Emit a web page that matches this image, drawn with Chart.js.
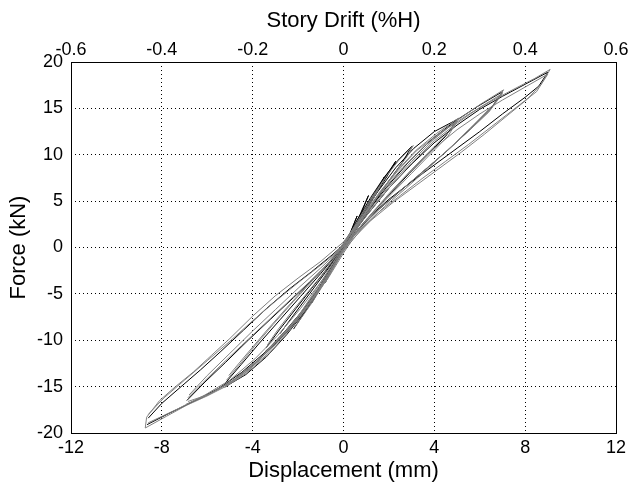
<!DOCTYPE html>
<html>
<head>
<meta charset="utf-8">
<title>Hysteresis - Force vs Displacement</title>
<script src="https://cdn.jsdelivr.net/npm/chart.js@4.4.0/dist/chart.umd.min.js"></script>
<style>
    html, body { margin: 0; padding: 0; background: #fff; }
    #wrap { width: 632px; height: 483px; }
</style>
</head>
<body>
<div id="wrap"><canvas id="chart" width="632" height="483"></canvas></div>
<script>
// --- Tick labels ---
const xTicks = [-12, -8, -4, 0, 4, 8, 12];
const yTicks = [-20, -15, -10, -5, 0, 5, 10, 15, 20];
const driftTicks = ['-0.6', '-0.4', '-0.2', '0', '0.2', '0.4', '0.6'];

// --- Loops [displacement mm, force kN] ---
// each loop: neg. tip -> origin -> pos. tip -> origin -> neg. tip
const loop1Grey = [
    [-8.67, -18.3], [-8.1, -16.5], [-7.4, -15.0], [-6.6, -13.4], [-5.8, -11.6], [-5.0, -9.8],
    [-4.0, -7.4], [-3.0, -5.2], [-2.0, -3.3], [-1.0, -1.5], [0, 0.6],
    [0.6, 2.6], [1.6, 5.8], [2.6, 8.6], [3.6, 11.0], [4.6, 12.9], [5.6, 14.5], [6.6, 15.9],
    [7.6, 17.2], [8.4, 18.2], [9.1, 19.2],
    [8.7, 17.6], [8.1, 16.0], [7.2, 14.2], [6.2, 12.2], [5.2, 10.3], [4.2, 8.5], [3.2, 6.7],
    [2.2, 4.9], [1.2, 2.9], [0.4, 0.9], [0, -0.6],
    [-0.7, -3.4], [-1.6, -6.3], [-2.5, -8.9], [-3.4, -11.3], [-4.2, -13.3], [-5.2, -15.0],
    [-6.0, -16.0], [-6.9, -17.0], [-7.8, -18.2], [-8.73, -19.46], [-8.67, -18.3]
];
const loop1Grey2 = [
    [-8.6, -18.0], [-7.9, -16.2], [-7.0, -14.3], [-6.0, -12.2], [-5.0, -10.1], [-4.0, -7.9],
    [-3.0, -5.8], [-2.0, -3.8], [-1.0, -1.9], [0, 0.1],
    [1.0, 3.0], [2.0, 5.8], [3.0, 8.4], [4.0, 10.7], [5.0, 12.7], [6.0, 14.4], [7.0, 15.9],
    [8.0, 17.3], [9.0, 18.7],
    [8.5, 16.8], [7.5, 14.9], [6.5, 13.0], [5.5, 11.1], [4.5, 9.3], [3.5, 7.5], [2.5, 5.6],
    [1.5, 3.7], [0.6, 1.6], [0, 0],
    [-0.9, -3.4], [-1.9, -6.6], [-2.9, -9.5], [-3.9, -12.0], [-5.0, -14.3], [-6.1, -15.9],
    [-7.3, -17.4], [-8.6, -18.9]
];
const loop1Black = [
    [-8.6, -18.4], [-8.0, -16.8], [-7.2, -15.1], [-6.3, -13.2], [-5.4, -11.2], [-4.4, -8.9],
    [-3.4, -6.6], [-2.4, -4.5], [-1.4, -2.6], [-0.5, -0.8], [0, 0.3],
    [1.0, 3.4], [2.0, 6.4], [3.0, 9.0], [4.0, 11.3], [5.0, 13.2], [6.0, 14.9], [7.0, 16.3],
    [8.0, 17.6], [9.0, 18.9],
    [8.6, 17.4], [8.0, 16.2], [7.0, 14.4], [6.0, 12.5], [5.0, 10.7], [4.0, 8.9], [3.0, 7.1],
    [2.0, 5.2], [1.0, 3.0], [0.3, 0.9], [0, -0.2],
    [-0.8, -3.6], [-1.7, -6.5], [-2.6, -9.1], [-3.5, -11.4], [-4.5, -13.5], [-5.5, -15.2],
    [-6.6, -16.6], [-7.7, -17.9], [-8.65, -19.1]
];
const loop2Grey = [
    [-6.85, -16.2], [-6.2, -14.6], [-5.4, -12.7], [-4.5, -10.6], [-3.5, -8.3], [-2.5, -6.0],
    [-1.5, -3.7], [-0.6, -1.5], [0, 0.5],
    [1.0, 3.6], [2.0, 6.6], [3.0, 9.3], [4.0, 11.7], [5.0, 13.7], [6.0, 15.4], [7.05, 17.0],
    [6.6, 15.4], [5.8, 13.4], [4.8, 11.0], [3.8, 8.7], [2.8, 6.5], [1.8, 4.4], [0.8, 2.0], [0, -0.4],
    [-0.8, -3.6], [-1.8, -6.9], [-2.8, -9.8], [-3.8, -12.2], [-4.8, -14.2], [-5.9, -15.8], [-6.93, -16.9]
];
const loop2Grey2 = [
    [-6.8, -15.9], [-6.0, -13.8], [-5.0, -11.4], [-4.0, -9.0], [-3.0, -6.7], [-2.0, -4.4],
    [-1.0, -2.2], [0, 0.1],
    [1.0, 3.4], [2.0, 6.4], [3.0, 9.1], [4.0, 11.5], [5.0, 13.4], [6.0, 15.1], [7.0, 16.6],
    [6.4, 14.6], [5.4, 12.3], [4.4, 10.1], [3.4, 8.0], [2.4, 5.9], [1.4, 3.8], [0.5, 1.4], [0, -0.2],
    [-1.0, -4.0], [-2.0, -7.4], [-3.0, -10.3], [-4.0, -12.7], [-5.0, -14.6], [-6.0, -15.9], [-6.85, -16.6]
];
const loop2Black = [
    [-6.9, -16.5], [-6.1, -14.5], [-5.2, -12.4], [-4.2, -10.0], [-3.2, -7.7], [-2.2, -5.4],
    [-1.2, -3.1], [-0.4, -1.0], [0, 0.2],
    [0.9, 3.4], [1.9, 6.5], [2.9, 9.3], [3.9, 11.7], [4.9, 13.6], [5.9, 15.2], [7.0, 16.8],
    [6.5, 15.0], [5.6, 12.8], [4.6, 10.5], [3.6, 8.4], [2.6, 6.3], [1.6, 4.2], [0.6, 1.8], [0, -0.3],
    [-0.9, -3.9], [-1.9, -7.2], [-2.9, -10.1], [-3.9, -12.5], [-4.9, -14.4], [-5.9, -15.8], [-6.9, -16.9]
];
const loop3Grey = [
    [-5.15, -14.3], [-4.6, -12.7], [-3.9, -10.6], [-3.1, -8.3], [-2.2, -5.8], [-1.3, -3.4],
    [-0.5, -1.2], [0, 0.4],
    [0.8, 3.2], [1.6, 6.0], [2.4, 8.4], [3.2, 10.5], [4.1, 12.3], [5.06, 13.95],
    [4.7, 12.6], [4.0, 10.9], [3.2, 8.9], [2.4, 6.8], [1.6, 4.6], [0.8, 2.4], [0, -0.3],
    [-0.7, -3.2], [-1.5, -6.2], [-2.4, -9.0], [-3.3, -11.5], [-4.3, -13.6], [-5.24, -15.1]
];
const loop3Grey2 = [
    [-5.05, -13.8], [-4.3, -11.6], [-3.4, -9.0], [-2.5, -6.5], [-1.6, -4.1], [-0.7, -1.8], [0, 0.2],
    [0.8, 3.1], [1.6, 5.9], [2.4, 8.3], [3.2, 10.4], [4.1, 12.1], [5.0, 13.6],
    [4.6, 12.0], [3.8, 10.0], [3.0, 8.0], [2.2, 6.0], [1.4, 4.0], [0.6, 1.8], [0, -0.1],
    [-0.8, -3.4], [-1.7, -6.6], [-2.6, -9.4], [-3.5, -11.8], [-4.4, -13.6], [-5.1, -14.7]
];
const loop3Black = [
    [-5.2, -14.6], [-4.5, -12.6], [-3.7, -10.3], [-2.8, -7.8], [-1.9, -5.3], [-1.0, -2.8],
    [-0.3, -0.7], [0, 0.2],
    [0.7, 3.0], [1.5, 6.0], [2.3, 8.6], [3.1, 10.7], [4.0, 12.5], [5.0, 13.8],
    [4.5, 12.0], [3.7, 10.0], [2.9, 8.0], [2.1, 5.9], [1.3, 3.8], [0.5, 1.5], [0, -0.2],
    [-0.8, -3.6], [-1.6, -6.6], [-2.5, -9.4], [-3.4, -11.8], [-4.3, -13.7], [-5.2, -15.0]
];
const loop4Grey = [
    [-3.35, -10.5], [-2.9, -8.9], [-2.3, -7.0], [-1.6, -4.9], [-0.9, -2.8], [-0.3, -0.8], [0, 0.3],
    [0.6, 2.8], [1.2, 5.2], [1.8, 7.4], [2.4, 9.3], [3.07, 11.0],
    [2.8, 9.8], [2.3, 8.2], [1.7, 6.2], [1.1, 4.0], [0.5, 1.8], [0, -0.2],
    [-0.6, -2.6], [-1.2, -5.0], [-1.9, -7.4], [-2.6, -9.3], [-3.45, -11.2]
];
const loop4Black = [
    [-3.4, -10.8], [-2.8, -8.8], [-2.1, -6.6], [-1.4, -4.4], [-0.7, -2.2], [0, 0.1],
    [0.6, 2.9], [1.2, 5.4], [1.8, 7.6], [2.4, 9.4], [3.0, 10.9],
    [2.6, 9.2], [2.0, 7.2], [1.4, 5.0], [0.8, 2.8], [0.2, 0.6], [-0.4, -1.8],
    [-1.1, -4.6], [-1.8, -7.2], [-2.6, -9.4], [-3.4, -11.2]
];
const loop45Black = [
    [-2.8, -9.3], [-2.2, -7.3], [-1.5, -5.0], [-0.8, -2.7], [-0.1, -0.3], [0.5, 2.3], [1.1, 4.8],
    [1.7, 7.1], [2.3, 9.3], [1.9, 7.6], [1.3, 5.3], [0.7, 2.9], [0.1, 0.4], [-0.6, -2.6],
    [-1.3, -5.2], [-2.0, -7.6], [-2.8, -9.8]
];
const loop5Black = [
    [-2.2, -8.3], [-1.7, -6.5], [-1.1, -4.4], [-0.5, -2.0], [0.1, 0.5], [0.7, 3.0],
    [1.3, 5.5], [1.8, 7.6], [1.5, 6.1], [1.0, 4.0], [0.4, 1.6], [-0.2, -0.9],
    [-0.9, -3.8], [-1.6, -6.6], [-2.2, -8.8]
];
const loop5Grey = [
    [-2.1, -7.8], [-1.5, -5.6], [-0.8, -3.0], [-0.1, -0.2], [0.6, 2.6], [1.2, 5.0], [1.75, 7.2],
    [1.3, 5.2], [0.7, 2.8], [0.1, 0.2], [-0.6, -2.9], [-1.4, -6.0], [-2.15, -8.6]
];
const loop6Black = [
    [-1.4, -5.6], [-0.9, -3.6], [-0.3, -1.2], [0.3, 1.4], [0.7, 3.4], [1.1, 5.6],
    [0.8, 3.8], [0.3, 1.6], [-0.2, -0.8], [-0.8, -3.4], [-1.4, -6.0]
];
const loop7Black = [
    [-0.8, -3.4], [-0.3, -1.4], [0.2, 0.9], [0.6, 3.4], [0.3, 1.6], [-0.2, -0.6], [-0.8, -3.8]
];

// --- Helpers ---
function toPoints(pairs) {
    return pairs.map(p => ({ x: p[0], y: p[1] }));
}

function loopDataset(pairs, color) {
    return {
        data: toPoints(pairs),
        showLine: true,
        borderColor: color,
        borderWidth: 1,
        pointRadius: 0,
        fill: false,
        tension: 0
    };
}

// box around the plotting area (MATLAB style)
const boxPlugin = {
    id: 'box',
    afterDatasetsDraw(chart) {
        const a = chart.chartArea;
        const ctx = chart.ctx;
        ctx.save();
        ctx.strokeStyle = '#000';
        ctx.lineWidth = 1;
        ctx.strokeRect(Math.round(a.left) + 0.5, Math.round(a.top) + 0.5,
            Math.round(a.right - a.left), Math.round(a.bottom - a.top));
        ctx.restore();
    }
};

const tickFont = { family: 'Liberation Sans, Arial, sans-serif', size: 18 };
const titleFont = { family: 'Liberation Sans, Arial, sans-serif', size: 22, lineHeight: 1 };
const dotted = { color: '#000', lineWidth: 1, drawTicks: false };
// in Chart.js v4 the grid line dash lives under border
const dottedBorder = { display: false, dash: [1, 3] };

const greyColor = '#808080';
const blackColor = '#000000';

new Chart(document.getElementById('chart'), {
    type: 'scatter',
    data: {
        datasets: [
            loopDataset(loop1Grey, greyColor),
            loopDataset(loop1Grey2, greyColor),
            loopDataset(loop2Grey, greyColor),
            loopDataset(loop2Grey2, greyColor),
            loopDataset(loop3Grey, greyColor),
            loopDataset(loop3Grey2, greyColor),
            loopDataset(loop4Grey, greyColor),
            loopDataset(loop5Grey, greyColor),
            loopDataset(loop1Black, blackColor),
            loopDataset(loop2Black, blackColor),
            loopDataset(loop3Black, blackColor),
            loopDataset(loop4Black, blackColor),
            loopDataset(loop45Black, blackColor),
            loopDataset(loop5Black, blackColor),
            loopDataset(loop6Black, blackColor),
            loopDataset(loop7Black, blackColor)
        ]
    },
    options: {
        responsive: false,
        animation: false,
        layout: { padding: { left: 0, right: 16, top: 0, bottom: 0 } },
        plugins: {
            legend: { display: false },
            tooltip: { enabled: false }
        },
        scales: {
            x: {
                type: 'linear',
                position: 'bottom',
                min: -12,
                max: 12,
                afterBuildTicks: s => { s.ticks = xTicks.map(v => ({ value: v })); },
                afterFit: s => { s.height = 50; },
                grid: dotted,
                border: dottedBorder,
                ticks: { font: tickFont, color: '#000', padding: 4, maxRotation: 0 },
                title: { display: true, text: 'Displacement (mm)', font: titleFont, color: '#000', padding: { top: 0, bottom: 1 } }
            },
            drift: {
                type: 'linear',
                position: 'top',
                min: -0.6,
                max: 0.6,
                afterBuildTicks: s => { s.ticks = driftTicks.map(v => ({ value: parseFloat(v) })); },
                afterFit: s => { s.height = 62; },
                grid: { display: false, drawTicks: false },
                border: { display: false },
                ticks: {
                    font: tickFont, color: '#000', padding: 1, maxRotation: 0,
                    callback: (v, i) => driftTicks[i]
                },
                title: { display: true, text: 'Story Drift (%H)', font: titleFont, color: '#000', padding: { top: 10, bottom: 0 } }
            },
            y: {
                type: 'linear',
                position: 'left',
                min: -20,
                max: 20,
                afterBuildTicks: s => { s.ticks = yTicks.map(v => ({ value: v })); },
                afterFit: s => { s.width = 71; },
                grid: dotted,
                border: dottedBorder,
                ticks: { font: tickFont, color: '#000', padding: 8 },
                title: { display: true, text: 'Force (kN)', font: titleFont, color: '#000', padding: { top: 8, bottom: 0 } }
            }
        }
    },
    plugins: [boxPlugin]
});
</script>
</body>
</html>
